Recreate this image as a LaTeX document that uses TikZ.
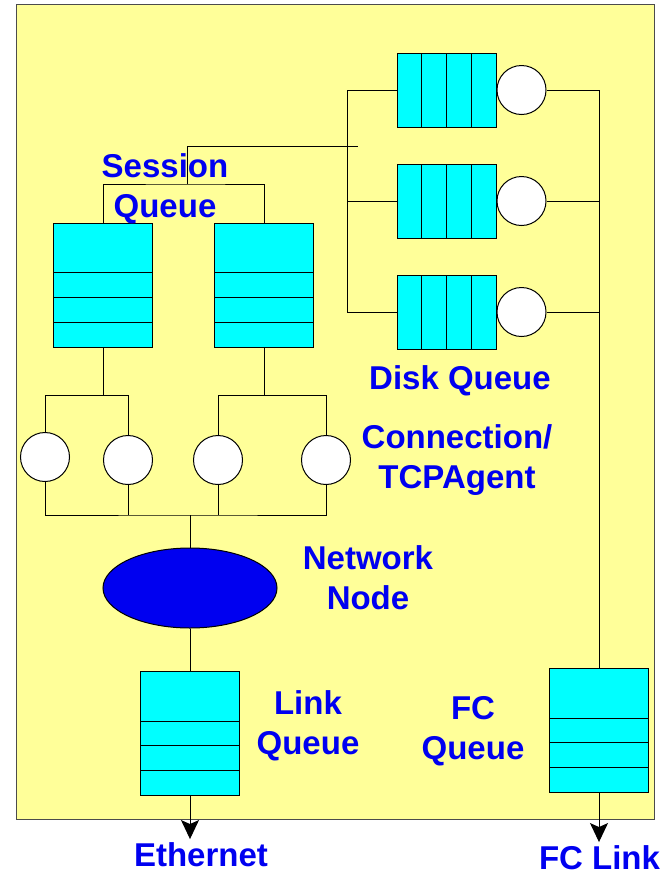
\documentclass[tikz,border=0pt]{standalone}
\usepackage{fontspec}
\setmainfont{Liberation Sans}
\usetikzlibrary{positioning, shapes.geometric, arrows.meta, calc}

\definecolor{panelyellow}{RGB}{255,255,153}
\definecolor{queuecyan}{RGB}{0,255,255}
\definecolor{labelblue}{RGB}{0,0,240}

\begin{document}
\begin{tikzpicture}[x=1pt, y=-1pt, line width=1pt]

    % Styles
    \tikzstyle{vqueue} = [rectangle, draw, fill=queuecyan, minimum width=99pt, minimum height=124pt, inner sep=0pt,
        path picture={\foreach \f in {0.2,0.4,0.6} {\draw ($(path picture bounding box.south west)!\f!(path picture bounding box.north west)$) -- ($(path picture bounding box.south east)!\f!(path picture bounding box.north east)$);}}]
    \tikzstyle{hqueue} = [rectangle, draw, fill=queuecyan, minimum width=99pt, minimum height=74pt, inner sep=0pt,
        path picture={\foreach \f in {0.25,0.5,0.75} {\draw ($(path picture bounding box.south west)!\f!(path picture bounding box.south east)$) -- ($(path picture bounding box.north west)!\f!(path picture bounding box.north east)$);}}]
    \tikzstyle{server} = [circle, draw, fill=white, minimum size=49pt, inner sep=0pt]
    \tikzstyle{netnode} = [ellipse, draw, fill=labelblue, minimum width=174pt, minimum height=80pt]
    \tikzstyle{qlabel} = [text=labelblue, font=\fontsize{33}{40}\selectfont\bfseries, align=center]
    \tikzstyle{arrow} = [-{Stealth[length=19pt,width=18pt,inset=4pt]}]

    \useasboundingbox (0,0) rectangle (662,876);

    % Panel
    \path[draw=black!70, fill=panelyellow] (16,4) rectangle (654,819);

    % Session Queues
    \node[vqueue] (session_a) at (103,285) {};
    \node[vqueue] (session_b) at (264,285) {};

    % Disk Queues
    \node[hqueue] (disk_a) at (446.5,90) {};
    \node[hqueue] (disk_b) at (446.5,201) {};
    \node[hqueue] (disk_c) at (446.5,312) {};
    \node[server] (disk_srv_a) [right=0pt of disk_a] {};
    \node[server] (disk_srv_b) [right=0pt of disk_b] {};
    \node[server] (disk_srv_c) [right=0pt of disk_c] {};

    % Connections / TCP agents
    \node[server] (conn_a) at (45,457) {};
    \node[server] (conn_b) at (128,460) {};
    \node[server] (conn_c) at (218,460) {};
    \node[server] (conn_d) at (326,460) {};

    % Network Node, Link Queue and FC Queue
    \node[netnode] (network) at (190,588) {};
    \node[vqueue] (link_queue) at (190,733.5) {};
    \node[vqueue] (fc_queue) at (599,730.5) {};

    % Labels
    \node[qlabel] (session_label) at (165,189) {Session\\Queue};
    \node[qlabel] (disk_label) at (460,381) {Disk Queue};
    \node[qlabel] (conn_label) at (457,460) {Connection/\\TCPAgent};
    \node[qlabel] (network_label) at (368,578) {Network\\Node};
    \node[qlabel] (link_label) at (308,726) {Link\\Queue};
    \node[qlabel] (fc_label) at (473,731) {FC\\Queue};
    \node[qlabel] (ethernet) at (201,855) {Ethernet};
    \node[qlabel] (fc_link) at (599.5,858) {FC Link};

    % Session queues to disk queues
    \coordinate (session_join) at (187,184);
    \coordinate (disk_feed) at (358,146);
    \coordinate (disk_bus) at (347,90);
    \draw (session_a.north) |- (session_join) -| (session_b.north);
    \draw (session_join) |- (disk_feed);
    \draw (disk_a.west) -| (disk_bus |- disk_c.west) -- (disk_c.west);
    \draw (disk_b.west) -- (disk_b.west -| disk_bus);

    % Disk servers to FC queue
    \draw (disk_srv_a.east) -| (fc_queue.north);
    \draw (disk_srv_b.east) -- (disk_srv_b.east -| fc_queue.north);
    \draw (disk_srv_c.east) -- (disk_srv_c.east -| fc_queue.north);

    % Session queues to connections
    \coordinate (split_a) at ($(session_a.south)+(0,48)$);
    \coordinate (split_b) at ($(session_b.south)+(0,48)$);
    \draw (session_a.south) -- (split_a);
    \draw (session_b.south) -- (split_b);
    \draw (conn_a.north) |- (split_a) -| (conn_b.north);
    \draw (conn_c.north) |- (split_b) -| (conn_d.north);

    % Connections to network node
    \coordinate (conn_bus) at (190,515);
    \draw (conn_a.south) |- (conn_bus) -| (conn_d.south);
    \draw (conn_b.south) -- (conn_b.south |- conn_bus);
    \draw (conn_c.south) -- (conn_c.south |- conn_bus);
    \draw (conn_bus) -- (network);
    \draw (network) -- (link_queue);

    % Outputs
    \draw[arrow] (link_queue.south) -- (link_queue.south |- ethernet.north);
    \draw[arrow] (fc_queue.south) -- (fc_queue.south |- fc_link.north);

\end{tikzpicture}
\end{document}
